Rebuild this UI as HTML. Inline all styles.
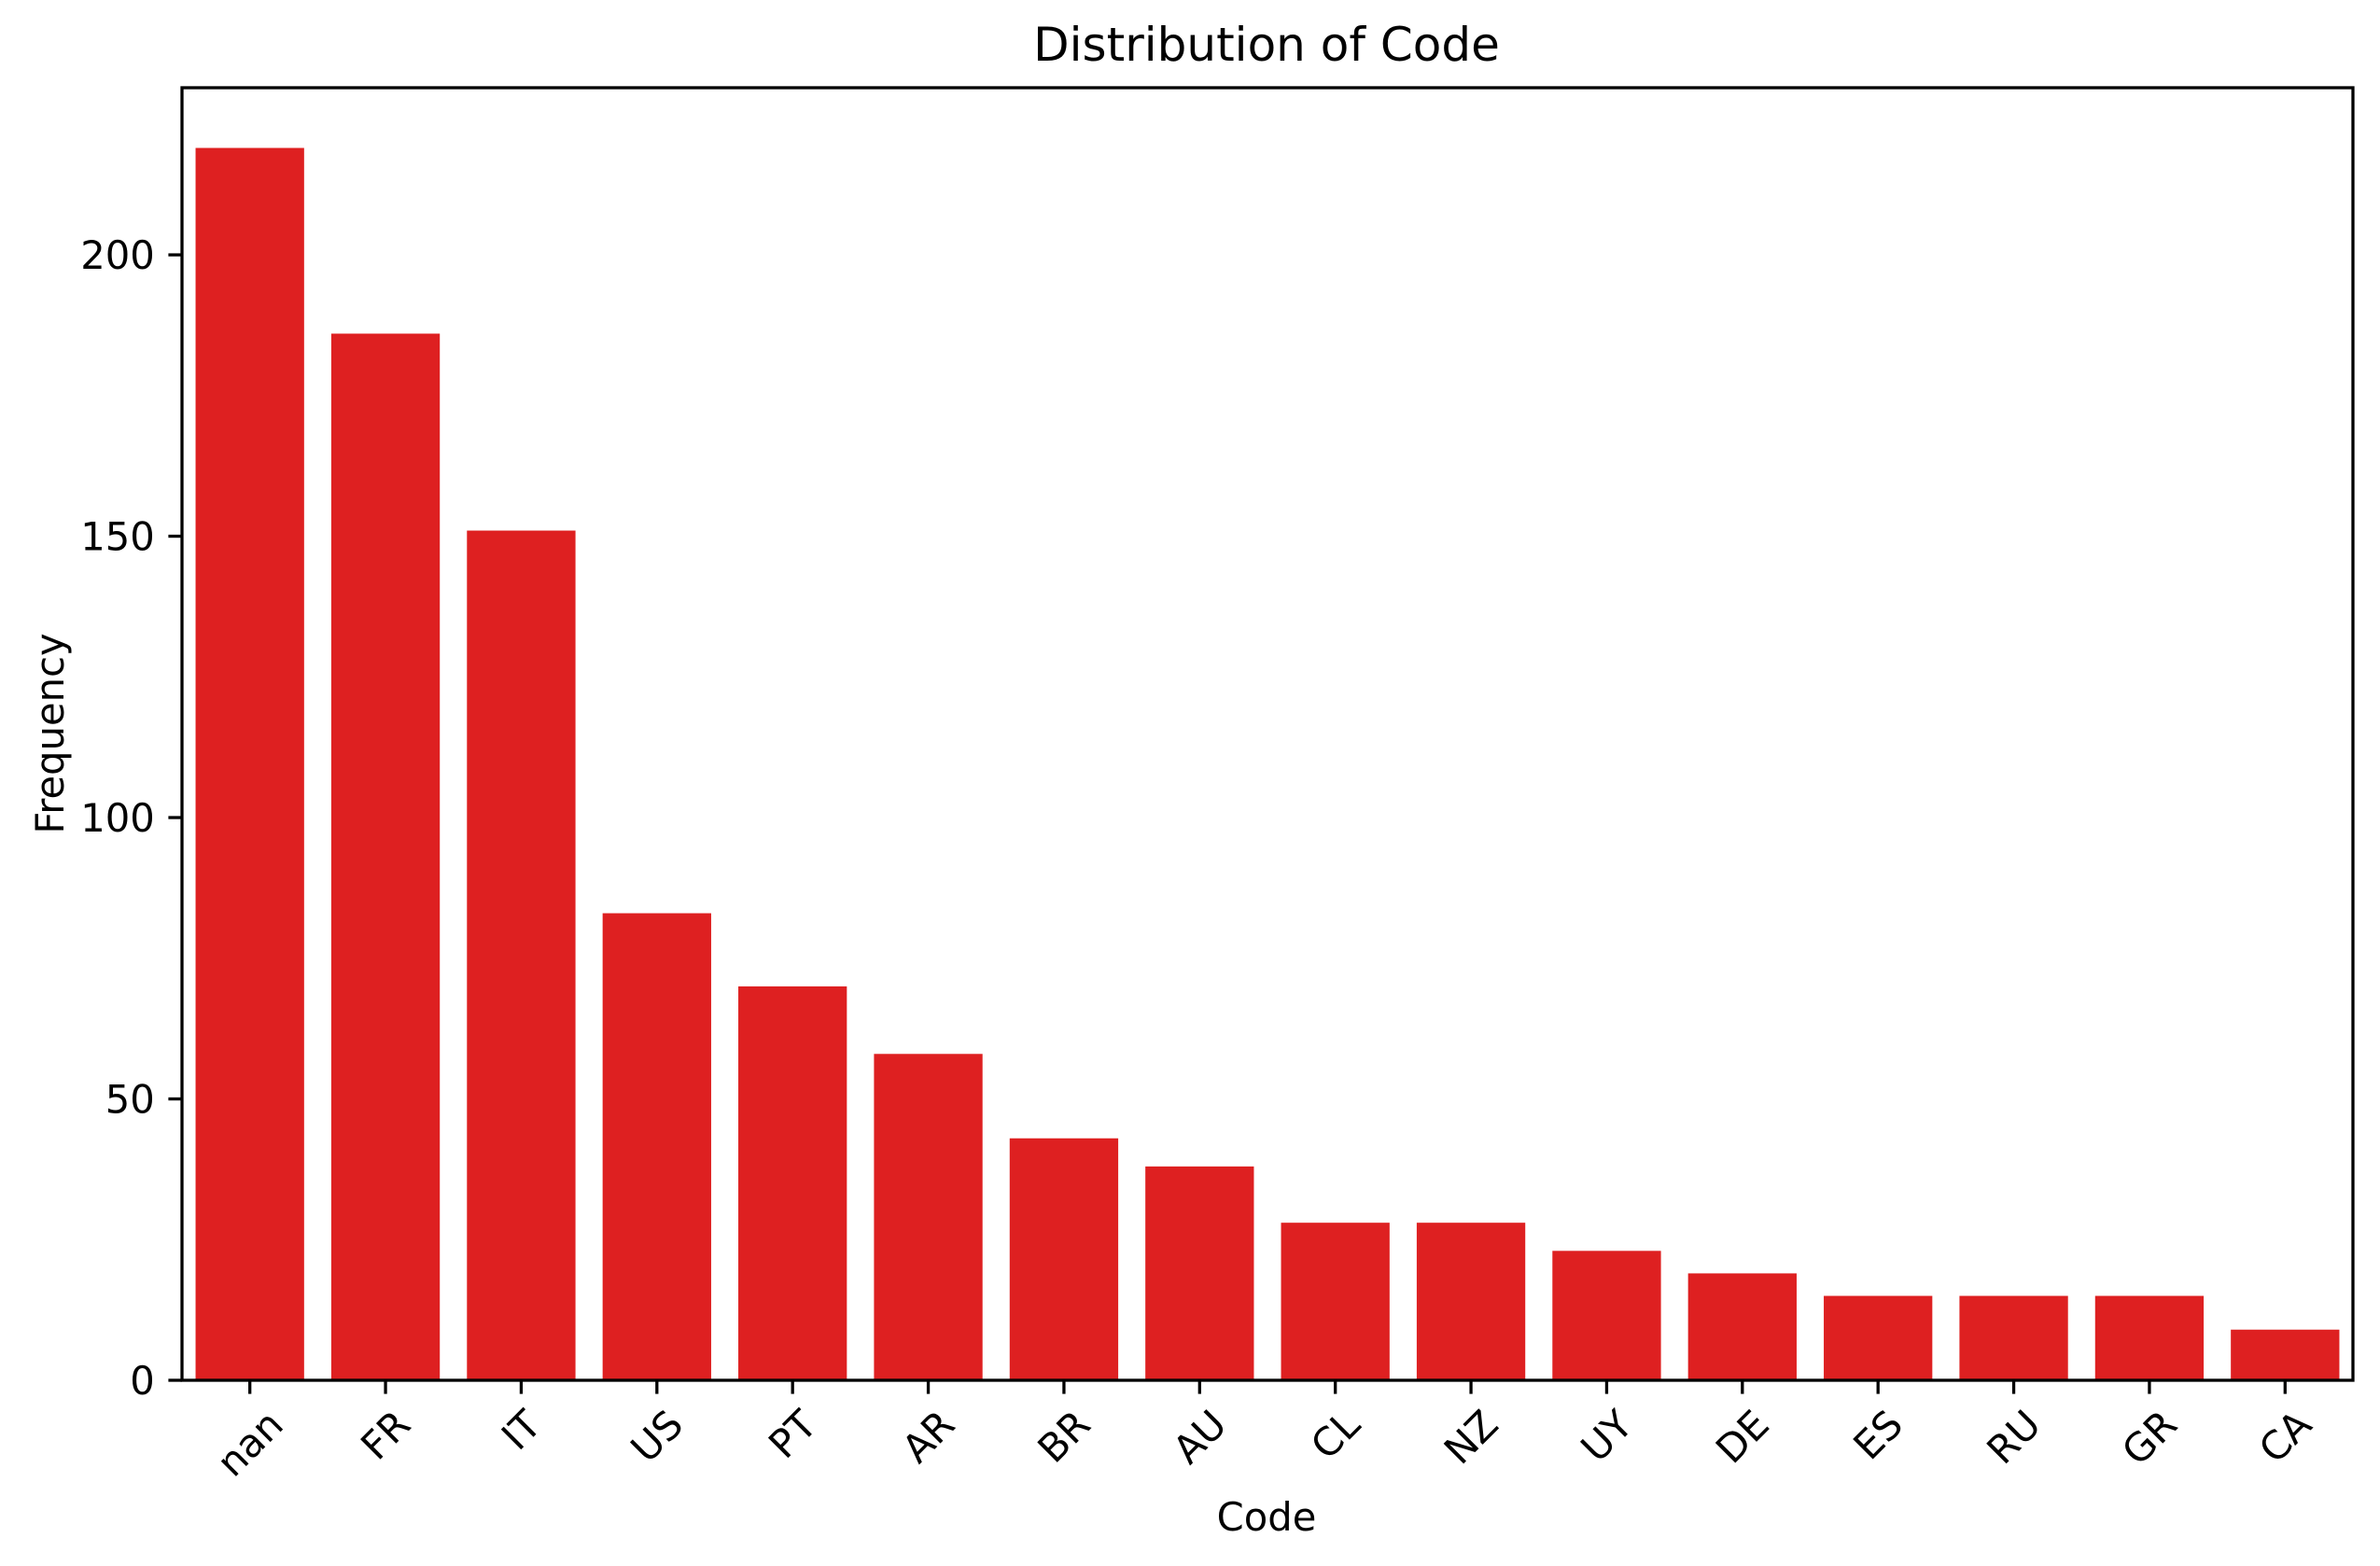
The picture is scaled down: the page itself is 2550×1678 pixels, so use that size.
<!DOCTYPE html>
<html><head><meta charset="utf-8"><style>
html,body{margin:0;padding:0;background:#fff;}
svg{display:block;font-family:"DejaVu Sans","Liberation Sans",sans-serif;}
</style></head><body>
<svg id="chart" width="2550" height="1678" viewBox="0 0 2550 1678">
<rect x="0" y="0" width="2550" height="1678" fill="#fff"/>
<text x="1357" y="65" font-size="50" text-anchor="middle" fill="#000">Distribution of Code</text>
<text x="1357" y="1640" font-size="41.7" text-anchor="middle" fill="#000">Code</text>
<text transform="translate(68,786) rotate(-90)" font-size="41.7" text-anchor="middle" fill="#000">Frequency</text>
<g id="bars"></g>
<g id="yticks"></g>
<g id="xticks"></g>
<rect x="195" y="94" width="2326" height="1385" fill="none" stroke="#000" stroke-width="3.3"/>
</svg>
<script>
const categories = ["nan","FR","IT","US","PT","AR","BR","AU","CL","NZ","UY","DE","ES","RU","GR","CA"];
const counts = [219,186,151,83,70,58,43,38,28,28,23,19,15,15,15,9];
const yTickValues = [0,50,100,150,200];
const yTickLabels = ["0","50","100","150","200"];

const NS = "http://www.w3.org/2000/svg";
const L = 195, R = 2521, T = 94, B = 1479, YMAX = 229.7;
const step = (R - L) / categories.length;
function xScale(i){ return L + step * (i + 0.5); }
function yScale(v){ return B - (B - T) * v / YMAX; }

const bars = document.getElementById('bars');
categories.forEach((c, i) => {
  const r = document.createElementNS(NS, 'rect');
  const w = step * 0.8;
  r.setAttribute('x', xScale(i) - w / 2);
  r.setAttribute('y', yScale(counts[i]));
  r.setAttribute('width', w);
  r.setAttribute('height', yScale(0) - yScale(counts[i]));
  r.setAttribute('fill', '#de2021');
  
  
  bars.appendChild(r);
});

const yt = document.getElementById('yticks');
yTickValues.forEach((v, i) => {
  const y = yScale(v);
  const ln = document.createElementNS(NS, 'line');
  ln.setAttribute('x1', L - 14.6); ln.setAttribute('x2', L);
  ln.setAttribute('y1', y); ln.setAttribute('y2', y);
  ln.setAttribute('stroke', '#000'); ln.setAttribute('stroke-width', '3.3');
  
  
  yt.appendChild(ln);
  const t = document.createElementNS(NS, 'text');
  t.setAttribute('x', L - 14.6 - 14.6);
  t.setAttribute('y', y + 15);
  t.setAttribute('font-size', '41.7');
  t.setAttribute('text-anchor', 'end');
  t.textContent = yTickLabels[i];
  
  
  yt.appendChild(t);
});

const xt = document.getElementById('xticks');
categories.forEach((c, i) => {
  const x = xScale(i);
  const ln = document.createElementNS(NS, 'line');
  ln.setAttribute('x1', x); ln.setAttribute('x2', x);
  ln.setAttribute('y1', B); ln.setAttribute('y2', B + 14.6);
  ln.setAttribute('stroke', '#000'); ln.setAttribute('stroke-width', '3.3');
  
  
  xt.appendChild(ln);
  const t = document.createElementNS(NS, 'text');
  t.setAttribute('font-size', '41.7');
  t.setAttribute('text-anchor', 'middle');
  t.setAttribute('dominant-baseline', 'central');
  t.textContent = c;
  
  
  xt.appendChild(t);
  const bb = t.getBBox();
  const h = (bb.width + 30) / Math.SQRT2;
  const cy = B + 14.6 + 14.6 + h / 2;
  t.setAttribute('transform', 'translate(' + x + ',' + cy + ') rotate(-45)');
});
</script>
</body></html>
